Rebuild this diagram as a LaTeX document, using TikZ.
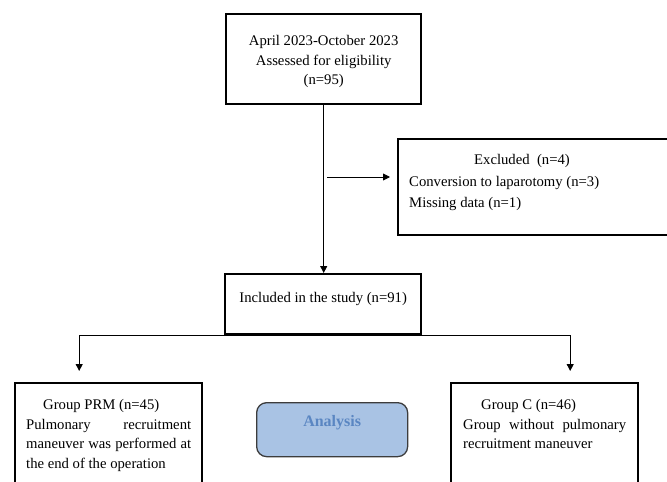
\documentclass[tikz,border=0pt]{standalone}
\usepackage{fontspec}
\setmainfont{Liberation Serif}
\usetikzlibrary{arrows.meta,calc}
\definecolor{anafill}{HTML}{A9C3E4}
\definecolor{anatext}{HTML}{5A86C2}
\definecolor{anadraw}{HTML}{3C3C3C}
\begin{document}
\begin{tikzpicture}[x=1pt,y=-1pt,
  box/.style={draw=black, line width=2.4pt, inner ysep=0pt, anchor=north west},
  conn/.style={draw=black, line width=0.9pt, -{Triangle[length=7pt,width=7pt]}},
  txt/.style={font=\fontsize{14.7}{19.5}\selectfont}]
\useasboundingbox (0,0) rectangle (667,482);
\clip (0,0) rectangle (667,482);

% top box
\node[box, inner xsep=0pt, txt] (top) at (225,13)
  {\parbox[c][90pt][t]{195pt}{\centering\vspace*{21.3pt}April 2023-October 2023\\Assessed for eligibility\\(n=95)}};

% excluded box
\node[box, inner xsep=11pt, font=\fontsize{14.7}{21.5}\selectfont] (excl) at (397,138)
  {\parbox[c][96pt][t]{258pt}{\raggedright\vspace*{15.3pt}\hspace*{65pt}Excluded\ \ (n=4)\\Conversion to laparotomy (n=3)\\Missing data (n=1)}};

% included box
\node[box, inner xsep=0pt, txt] (incl) at (224,273)
  {\parbox[c][60pt][t]{196pt}{\centering\vspace*{18.3pt}Included in the study (n=91)}};

% group PRM
\node[box, inner xsep=11pt, txt] (prm) at (14,382)
  {\parbox[c][130pt][t]{165pt}{\vspace*{16.5pt}\hspace*{17pt}Group PRM (n=45)\\
   \makebox[\linewidth][s]{Pulmonary recruitment}\\
   \makebox[\linewidth][s]{maneuver was performed at}\\
   the end of the operation}};

% group C
\node[box, inner xsep=12pt, txt] (grc) at (450,382)
  {\parbox[c][130pt][t]{163pt}{\vspace*{16.5pt}\hspace*{18pt}Group C (n=46)\\
   \makebox[\linewidth][s]{Group without pulmonary}\\
   recruitment maneuver}};

% analysis
\node[draw=anadraw, fill=anafill, line width=1.3pt, rounded corners=10pt,
      inner sep=0pt, anchor=north west, font=\fontsize{16}{19}\selectfont\bfseries,
      text=anatext] (ana) at (256,402)
  {\parbox[c][54pt][t]{151pt}{\centering\vspace*{13pt}Analysis}};

% connectors
\draw[conn] (top.south) -- (top.south |- incl.north);
\coordinate (sa) at (327,177);
\draw[conn, shorten >=7pt] (sa) -- (sa -| excl.west);
\draw[conn, shorten >=11pt] (incl.south) -| ([xshift=-29.5pt]prm.north);
\draw[conn, shorten >=11pt] (incl.south) -| ([xshift=25.5pt]grc.north);
\end{tikzpicture}
\end{document}
